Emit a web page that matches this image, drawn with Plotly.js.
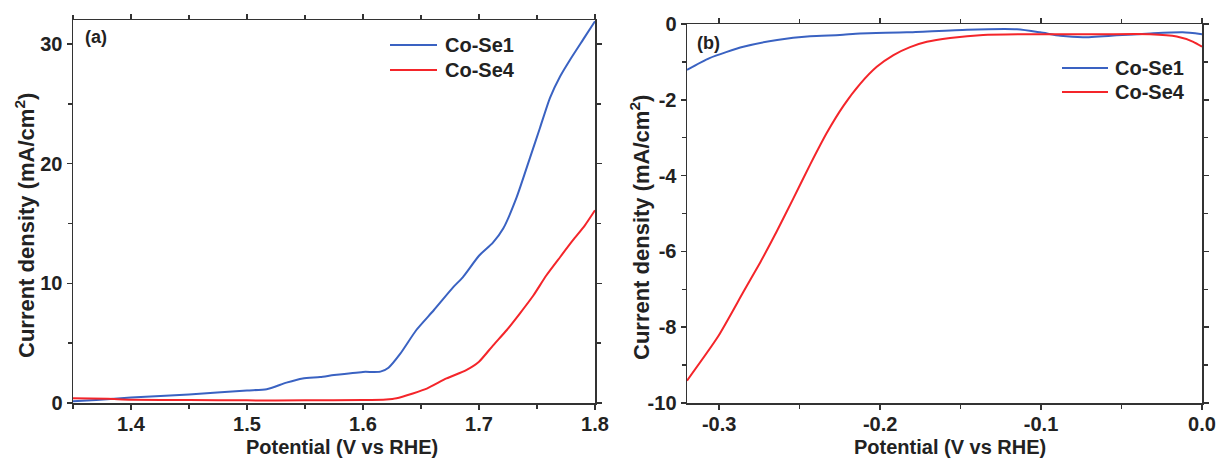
<!DOCTYPE html>
<html>
<head>
<meta charset="utf-8">
<script src="https://cdn.plot.ly/plotly-3.0.1.min.js"></script>
<style>html,body{margin:0;padding:0;background:#fff;}</style>
</head>
<body>
<div id="chart" style="width:1224px;height:459px;"></div>
<script>
// Panel (a): OER polarization
const aSe1V = [1.35,1.37,1.40,1.45,1.50,1.517,1.534,1.548,1.563,1.575,1.60,1.615,1.622,1.632,1.646,1.661,1.678,1.686,1.70,1.712,1.721,1.7325,1.744,1.7526,1.7612,1.770,1.778,1.790,1.80];
const aSe1J = [0.15,0.25,0.45,0.72,1.05,1.15,1.7,2.05,2.17,2.33,2.6,2.62,2.95,4.1,6.1,7.75,9.7,10.5,12.3,13.4,14.6,17.2,20.5,23.0,25.5,27.3,28.6,30.4,31.9];
const aSe4V = [1.35,1.38,1.40,1.45,1.50,1.55,1.60,1.62,1.629,1.643,1.655,1.672,1.689,1.70,1.712,1.724,1.735,1.747,1.758,1.770,1.781,1.791,1.80];
const aSe4J = [0.4,0.35,0.28,0.25,0.22,0.22,0.25,0.3,0.4,0.8,1.2,2.05,2.75,3.45,4.8,6.1,7.45,9.0,10.65,12.2,13.6,14.8,16.1];
// Panel (b): HER polarization
const bSe1V = [-0.32,-0.306,-0.285,-0.264,-0.2435,-0.225,-0.2125,-0.1834,-0.146,-0.115,-0.1006,-0.088,-0.074,-0.053,-0.032,-0.012,0];
const bSe1J = [-1.21,-0.90,-0.60,-0.42,-0.32,-0.29,-0.25,-0.22,-0.15,-0.14,-0.22,-0.31,-0.35,-0.30,-0.25,-0.22,-0.27];
const bSe4V = [-0.32,-0.3006,-0.2851,-0.2745,-0.2642,-0.2539,-0.2435,-0.2331,-0.2228,-0.2124,-0.2021,-0.1917,-0.1814,-0.171,-0.1565,-0.136,-0.1048,-0.0634,-0.0323,-0.0157,-0.0054,0];
const bSe4J = [-9.41,-8.24,-7.08,-6.29,-5.47,-4.60,-3.71,-2.87,-2.16,-1.58,-1.13,-0.82,-0.61,-0.47,-0.37,-0.29,-0.27,-0.27,-0.27,-0.33,-0.47,-0.60];
// Tick labels
const aXTicks = [1.4,1.5,1.6,1.7,1.8];
const aXText = ["1.4","1.5","1.6","1.7","1.8"];
const aYTicks = [0,10,20,30];
const aYText = ["0","10","20","30"];
const bXTicks = [-0.3,-0.2,-0.1,0.0];
const bXText = ["-0.3","-0.2","-0.1","0.0"];
const bYTicks = [-10,-8,-6,-4,-2,0];
const bYText = ["-10","-8","-6","-4","-2","0"];
const seriesNames = ["Co-Se1","Co-Se4"];
const xTitle = "Potential (V vs RHE)";
const yTitle = "Current density (mA/cm<sup>2</sup>)";

const BLUE = "#3a62c2", RED = "#f4252a";
const COLORS = [BLUE, RED];
const FONT = "Liberation Sans, Arial, sans-serif";
const W = 1224, H = 459;
const px = v => v / W, py = v => 1 - v / H;

const traces = [
  {x: aSe1V, y: aSe1J, name: seriesNames[0], mode: "lines", line: {color: BLUE, width: 2, shape: "spline", smoothing: 0.6}, xaxis: "x", yaxis: "y"},
  {x: aSe4V, y: aSe4J, name: seriesNames[1], mode: "lines", line: {color: RED, width: 2, shape: "spline", smoothing: 0.6}, xaxis: "x", yaxis: "y"},
  {x: bSe1V, y: bSe1J, name: seriesNames[0], mode: "lines", line: {color: BLUE, width: 2, shape: "spline", smoothing: 0.6}, xaxis: "x2", yaxis: "y2"},
  {x: bSe4V, y: bSe4J, name: seriesNames[1], mode: "lines", line: {color: RED, width: 2, shape: "spline", smoothing: 0.6}, xaxis: "x2", yaxis: "y2"}
];

function ax(extra) {
  return Object.assign({
    showline: true, linecolor: "#333", linewidth: 1.5, mirror: "ticks",
    ticks: "outside", ticklen: 5, tickwidth: 1.5, tickcolor: "#333",
    showgrid: false, zeroline: false, automargin: false,
    tickfont: {family: FONT, size: 20, color: "#222", weight: "bold"}
  }, extra);
}
const minorT = {ticks: "outside", ticklen: 4, tickwidth: 1.5, tickcolor: "#333"};

// Legend drawn as shapes + annotations (panel a and panel b)
const legends = [
  {lineX0: 390, lineX1: 437, textX: 443, rows: [45, 70]},
  {lineX0: 1062, lineX1: 1108, textX: 1113, rows: [68, 92]}
];
const shapes = [];
const annotations = [];
legends.forEach(lg => {
  seriesNames.forEach((nm, i) => {
    shapes.push({type: "line", xref: "paper", yref: "paper",
      x0: px(lg.lineX0), x1: px(lg.lineX1), y0: py(lg.rows[i]), y1: py(lg.rows[i]),
      line: {color: COLORS[i], width: 2}});
    annotations.push({text: nm, xref: "paper", yref: "paper", x: px(lg.textX), y: py(lg.rows[i]),
      xanchor: "left", yanchor: "middle", showarrow: false,
      font: {family: FONT, size: 20, color: "#222", weight: "bold"}});
  });
});
// Panel labels
annotations.push({text: "(a)", xref: "paper", yref: "paper", x: px(83), y: py(37), xanchor: "left", yanchor: "middle", showarrow: false,
  font: {family: FONT, size: 18, color: "#222", weight: "bold"}});
annotations.push({text: "(b)", xref: "paper", yref: "paper", x: px(695), y: py(43), xanchor: "left", yanchor: "middle", showarrow: false,
  font: {family: FONT, size: 18, color: "#222", weight: "bold"}});
// Axis titles
[342, 950].forEach(cx => annotations.push({text: xTitle, xref: "paper", yref: "paper", x: px(cx), y: py(447),
  xanchor: "center", yanchor: "middle", showarrow: false, font: {family: FONT, size: 20, color: "#222", weight: "bold"}}));
[[25, 226], [640, 228]].forEach(([cx, cy]) => annotations.push({text: yTitle, xref: "paper", yref: "paper", x: px(cx), y: py(cy),
  xanchor: "center", yanchor: "middle", textangle: -90, showarrow: false, font: {family: FONT, size: 22, color: "#222", weight: "bold"}}));

const layout = {
  width: W, height: H,
  margin: {l: 0, r: 0, t: 0, b: 0},
  paper_bgcolor: "#fff", plot_bgcolor: "#fff",
  showlegend: false,
  xaxis: ax({domain: [px(73), px(595)], range: [1.35, 1.8], anchor: "y",
    tickmode: "array", tickvals: aXTicks, ticktext: aXText, ticklabelstandoff: -3,
    minor: Object.assign({dtick: 0.05, tick0: 1.35}, minorT)}),
  yaxis: ax({domain: [py(403), py(20)], range: [0, 32], anchor: "x",
    tickmode: "array", tickvals: aYTicks, ticktext: aYText,
    minor: Object.assign({dtick: 5, tick0: 0}, minorT)}),
  xaxis2: ax({domain: [px(687), px(1202)], range: [-0.32, 0], anchor: "y2",
    tickmode: "array", tickvals: bXTicks, ticktext: bXText, ticklabelstandoff: -3,
    minor: Object.assign({dtick: 0.05, tick0: 0}, minorT)}),
  yaxis2: ax({domain: [py(403), py(24)], range: [-10, 0], anchor: "x2",
    tickmode: "array", tickvals: bYTicks, ticktext: bYText,
    minor: Object.assign({dtick: 1, tick0: 0}, minorT)}),
  shapes: shapes,
  annotations: annotations
};

Plotly.newPlot("chart", traces, layout, {displayModeBar: false, staticPlot: true});
</script>
</body>
</html>
